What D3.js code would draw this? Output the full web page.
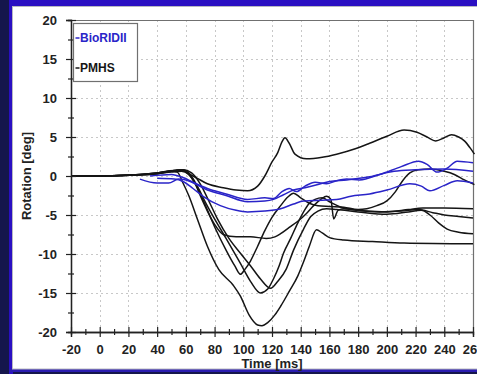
<!DOCTYPE html>
<html>
<head>
<meta charset="utf-8">
<script src="https://cdn.jsdelivr.net/npm/d3@7"></script>
<style>
  html, body { margin: 0; padding: 0; background: #14164e; }
  svg { display: block; }
  text { font-family: "Liberation Sans", Arial, sans-serif; font-weight: bold; }
</style>
</head>
<body>
<svg id="chart" width="477" height="374"></svg>
<script>
// Axis ticks
const xTicks = [-20, 0, 20, 40, 60, 80, 100, 120, 140, 160, 180, 200, 220, 240, 260];
const xMinorTicks = [-10, 10, 30, 50, 70, 90, 110, 130, 150, 170, 190, 210, 230, 250];
const yTicks = [-20, -15, -10, -5, 0, 5, 10, 15, 20];
const yMinorTicks = [-17.5, -12.5, -7.5, -2.5, 2.5, 7.5, 12.5, 17.5];

const xTitle = "Time [ms]";
const yTitle = "Rotation [deg]";
const legendLabels = ["BioRIDII", "PMHS"];

// BioRIDII dummy runs: [time ms, rotation deg]
const bioridA = [[35,0.0],[50,0.2],[58,-0.2],[65,-0.8],[75,-1.6],[88,-2.3],[103,-3.0],[115,-2.8],[121,-2.9],[127,-2.0],[132,-1.6],[137,-2.0],[143,-1.3],[150,-0.8],[158,-1.0],[165,-0.6],[172,-0.4],[181,-0.5],[195,0.2],[210,1.2],[222,1.9],[228,1.5],[235,0.5],[242,1.0],[249,1.9],[260,1.7]];
const bioridB = [[28,-0.4],[40,-0.9],[48,-0.9],[55,-0.4],[63,-0.7],[75,-1.8],[88,-2.5],[103,-3.3],[115,-3.2],[121,-3.0],[128,-2.4],[135,-1.8],[143,-1.5],[152,-1.1],[160,-0.7],[172,-0.5],[188,-0.1],[205,0.6],[220,0.8],[240,0.9],[260,0.6]];
const bioridC = [[40,-0.3],[52,-0.4],[58,-0.7],[65,-1.6],[72,-2.6],[84,-3.8],[95,-4.4],[103,-4.6],[115,-4.5],[126,-4.2],[135,-3.6],[142,-3.2],[155,-3.1],[165,-3.0],[175,-2.6],[188,-2.3],[200,-1.8],[216,-1.0],[224,-1.3],[230,-1.9],[240,-1.2],[249,-0.6],[260,-0.9]];

// PMHS tests: [time ms, rotation deg]
const pmhs1 = [[-20,0],[0,0],[20,0.1],[40,0.3],[50,0.6],[56,0.8],[62,0.3],[68,-0.3],[75,-1.0],[86,-1.5],[95,-1.8],[103,-1.9],[110,-1.3],[115,0.0],[120,1.8],[124,3.0],[127,4.4],[129,4.9],[132,4.2],[136,2.8],[144,2.2],[155,2.4],[165,2.8],[178,3.5],[188,4.2],[200,5.1],[212,5.9],[221,5.6],[228,5.0],[234,4.5],[240,4.9],[245,5.3],[250,5.0],[254,4.5],[258,3.6],[261,2.8]];
const pmhs2 = [[-20,0],[0,0],[20,0.1],[40,0.3],[50,0.6],[54,0.5],[58,-0.9],[62,-2.5],[68,-5.5],[75,-9.0],[83,-12.0],[93,-14.0],[98,-15.4],[104,-17.8],[110,-19.1],[113,-19.2],[117,-18.8],[122,-17.8],[126,-16.7],[132,-14.8],[138,-12.8],[142,-11.0],[146,-9.0],[151,-6.9],[155,-7.3],[160,-7.9],[170,-8.2],[190,-8.4],[212,-8.6],[260,-8.7]];
const pmhs3 = [[-20,0],[0,0],[20,0.1],[40,0.3],[50,0.5],[57,0.6],[62,0.2],[66,-0.8],[70,-2.5],[75,-4.5],[80,-6.2],[86,-7.5],[95,-7.8],[105,-7.8],[116,-8.0],[122,-7.8],[126,-7.4],[132,-6.6],[138,-5.8],[144,-4.8],[149,-3.8],[154,-3.0],[158,-2.6],[161,-3.0],[163,-5.5],[166,-4.4],[170,-4.2],[185,-4.5],[200,-4.6],[215,-4.3],[225,-4.1],[240,-4.1],[260,-4.2]];
const pmhs4 = [[-20,0],[0,0],[20,0.1],[40,0.4],[52,0.7],[58,0.7],[63,0.0],[68,-1.5],[73,-3.5],[80,-6.5],[88,-9.5],[94,-11.5],[98,-12.6],[101,-12.0],[105,-10.9],[110,-9.0],[115,-7.0],[120,-5.3],[126,-3.8],[131,-2.7],[135,-2.2],[140,-2.8],[146,-3.5],[152,-3.8],[160,-3.9],[170,-4.0],[180,-4.3],[186,-4.2],[193,-3.8],[200,-3.2],[206,-2.0],[211,-0.6],[216,0.4],[222,0.8],[230,0.9],[240,0.6],[247,0.2],[254,-0.5],[261,-1.1]];
const pmhs5 = [[-20,0],[0,0],[20,0.1],[40,0.4],[52,0.7],[58,0.8],[63,0.2],[68,-1.3],[74,-3.5],[80,-5.5],[88,-8.0],[98,-11.2],[105,-13.5],[112,-15.0],[117,-14.5],[121,-13.2],[125,-11.5],[128,-9.9],[133,-8.0],[138,-6.0],[142,-4.6],[146,-3.5],[150,-3.0],[155,-2.8],[160,-3.3],[168,-4.0],[180,-4.4],[195,-4.6],[210,-4.5],[222,-4.3],[232,-4.7],[240,-5.0],[250,-5.2],[260,-5.4]];
const pmhs6 = [[-20,0],[0,0],[20,0.1],[40,0.4],[52,0.7],[58,0.8],[64,0.4],[70,-1.0],[76,-3.2],[82,-5.5],[90,-8.0],[98,-9.9],[105,-11.5],[112,-13.2],[119,-14.4],[124,-13.5],[130,-11.9],[135,-9.5],[142,-6.8],[147,-5.2],[152,-4.5],[158,-4.2],[165,-4.3],[180,-4.6],[200,-4.9],[215,-4.6],[224,-4.4],[230,-5.0],[236,-6.0],[242,-6.8],[250,-7.2],[260,-7.4]];

const bioridRuns = [bioridA, bioridB, bioridC];
const pmhsRuns = [pmhs1, pmhs2, pmhs3, pmhs4, pmhs5, pmhs6];

const BLUE = "#2a24c8";
const BLACK = "#151515";

const svg = d3.select("#chart");
const W = 477, H = 374;

// Slide frame
svg.append("rect").attr("x", 0).attr("y", 0).attr("width", W).attr("height", H).attr("fill", "#15164c");
svg.append("rect").attr("x", 9).attr("y", 0).attr("width", W - 9).attr("height", 6).attr("fill", "#2a0fc2");
svg.append("rect").attr("x", 9).attr("y", 0).attr("width", 4).attr("height", H).attr("fill", "#2a0fc2");
svg.append("rect").attr("x", 9).attr("y", 369).attr("width", W - 9).attr("height", 3).attr("fill", "#2a1cb0");
svg.append("rect").attr("x", 12.5).attr("y", 6.5).attr("width", W - 12).attr("height", 362.5)
  .attr("fill", "#ffffff").attr("stroke", "#b8b8c0");

const plot = { left: 71, right: 473, top: 20, bottom: 332 };
const x = d3.scaleLinear().domain([-20, 260]).range([plot.left, plot.right]);
const y = d3.scaleLinear().domain([-20, 20]).range([plot.bottom, plot.top]);

// Dotted grid
const grid = svg.append("g").attr("stroke", "#c8c8c8").attr("stroke-width", 1).attr("stroke-dasharray", "2,3");
grid.selectAll("line.v").data(xTicks.slice(1, -1)).join("line")
  .attr("x1", d => Math.round(x(d)) + 0.5).attr("x2", d => Math.round(x(d)) + 0.5)
  .attr("y1", plot.top).attr("y2", plot.bottom);
grid.selectAll("line.h").data(yTicks.slice(1, -1)).join("line")
  .attr("y1", d => Math.round(y(d)) + 0.5).attr("y2", d => Math.round(y(d)) + 0.5)
  .attr("x1", plot.left).attr("x2", plot.right);

// Top / right frame
svg.append("path")
  .attr("d", `M${plot.left},${plot.top + 0.5}H${plot.right + 0.5}V${plot.bottom}`)
  .attr("fill", "none").attr("stroke", "#707070").attr("stroke-width", 1.2);

// Curves
const line = d3.line().x(d => x(d[0])).y(d => y(d[1])).curve(d3.curveMonotoneX);
const curves = svg.append("g").attr("fill", "none").attr("stroke-width", 1.5).attr("stroke-linejoin", "round");
curves.selectAll("path.p").data(pmhsRuns).join("path").attr("class", "p")
  .attr("d", line).attr("stroke", BLACK);
curves.selectAll("path.b").data(bioridRuns).join("path").attr("class", "b")
  .attr("d", line).attr("stroke", BLUE);

// Axes with ticks crossing the axis line
function styleAxis(g, major, horizontal) {
  g.select(".domain").attr("stroke", "#222").attr("stroke-width", 1.3);
  g.selectAll(".tick line").attr("stroke", "#222").attr("stroke-width", 1.2)
    .attr(horizontal ? "y1" : "x1", major ? -5 : -3)
    .attr(horizontal ? "y2" : "x2", major ? 5 : 3);
}
const plainNumber = d => String(d);

const yAxis = svg.append("g").attr("transform", `translate(${plot.left},0)`)
  .call(d3.axisLeft(y).tickValues(yTicks).tickSize(5).tickPadding(9).tickFormat(plainNumber));
styleAxis(yAxis, true, false);
yAxis.selectAll(".tick text").attr("font-size", 13).attr("fill", "#222").attr("font-family", "Liberation Sans, Arial").attr("font-weight", "bold");

const yMinor = svg.append("g").attr("transform", `translate(${plot.left},0)`)
  .call(d3.axisLeft(y).tickValues(yMinorTicks).tickSize(3).tickFormat(""));
styleAxis(yMinor, false, false);

const xAxis = svg.append("g").attr("transform", `translate(0,${plot.bottom})`)
  .call(d3.axisBottom(x).tickValues(xTicks).tickSize(5).tickPadding(8).tickFormat(plainNumber));
styleAxis(xAxis, true, true);
xAxis.selectAll(".tick text").attr("font-size", 13).attr("fill", "#222").attr("font-family", "Liberation Sans, Arial").attr("font-weight", "bold");

const xMinor = svg.append("g").attr("transform", `translate(0,${plot.bottom})`)
  .call(d3.axisBottom(x).tickValues(xMinorTicks).tickSize(3).tickFormat(""));
styleAxis(xMinor, false, true);

// Axis titles
svg.append("text").attr("x", (plot.left + plot.right) / 2).attr("y", 368)
  .attr("text-anchor", "middle").attr("font-size", 13).attr("fill", "#222").text(xTitle);
svg.append("text").attr("transform", `translate(31,${(plot.top + plot.bottom) / 2}) rotate(-90)`)
  .attr("text-anchor", "middle").attr("font-size", 13).attr("fill", "#222").text(yTitle);

// Legend
const legend = svg.append("g");
legend.append("rect").attr("x", 73.5).attr("y", 23.5).attr("width", 64).attr("height", 58)
  .attr("fill", "#ffffff").attr("stroke", "#707070").attr("stroke-width", 1.2);
const legendColors = [BLUE, BLACK];
legendLabels.forEach((lab, i) => {
  const ly = 38 + i * 30;
  legend.append("line").attr("x1", 75.5).attr("x2", 79.5).attr("y1", ly).attr("y2", ly)
    .attr("stroke", legendColors[i]).attr("stroke-width", 1.5);
  legend.append("text").attr("x", 80).attr("y", ly + 4).attr("font-size", 12)
    .attr("fill", legendColors[i]).text(lab);
});
</script>
</body>
</html>
